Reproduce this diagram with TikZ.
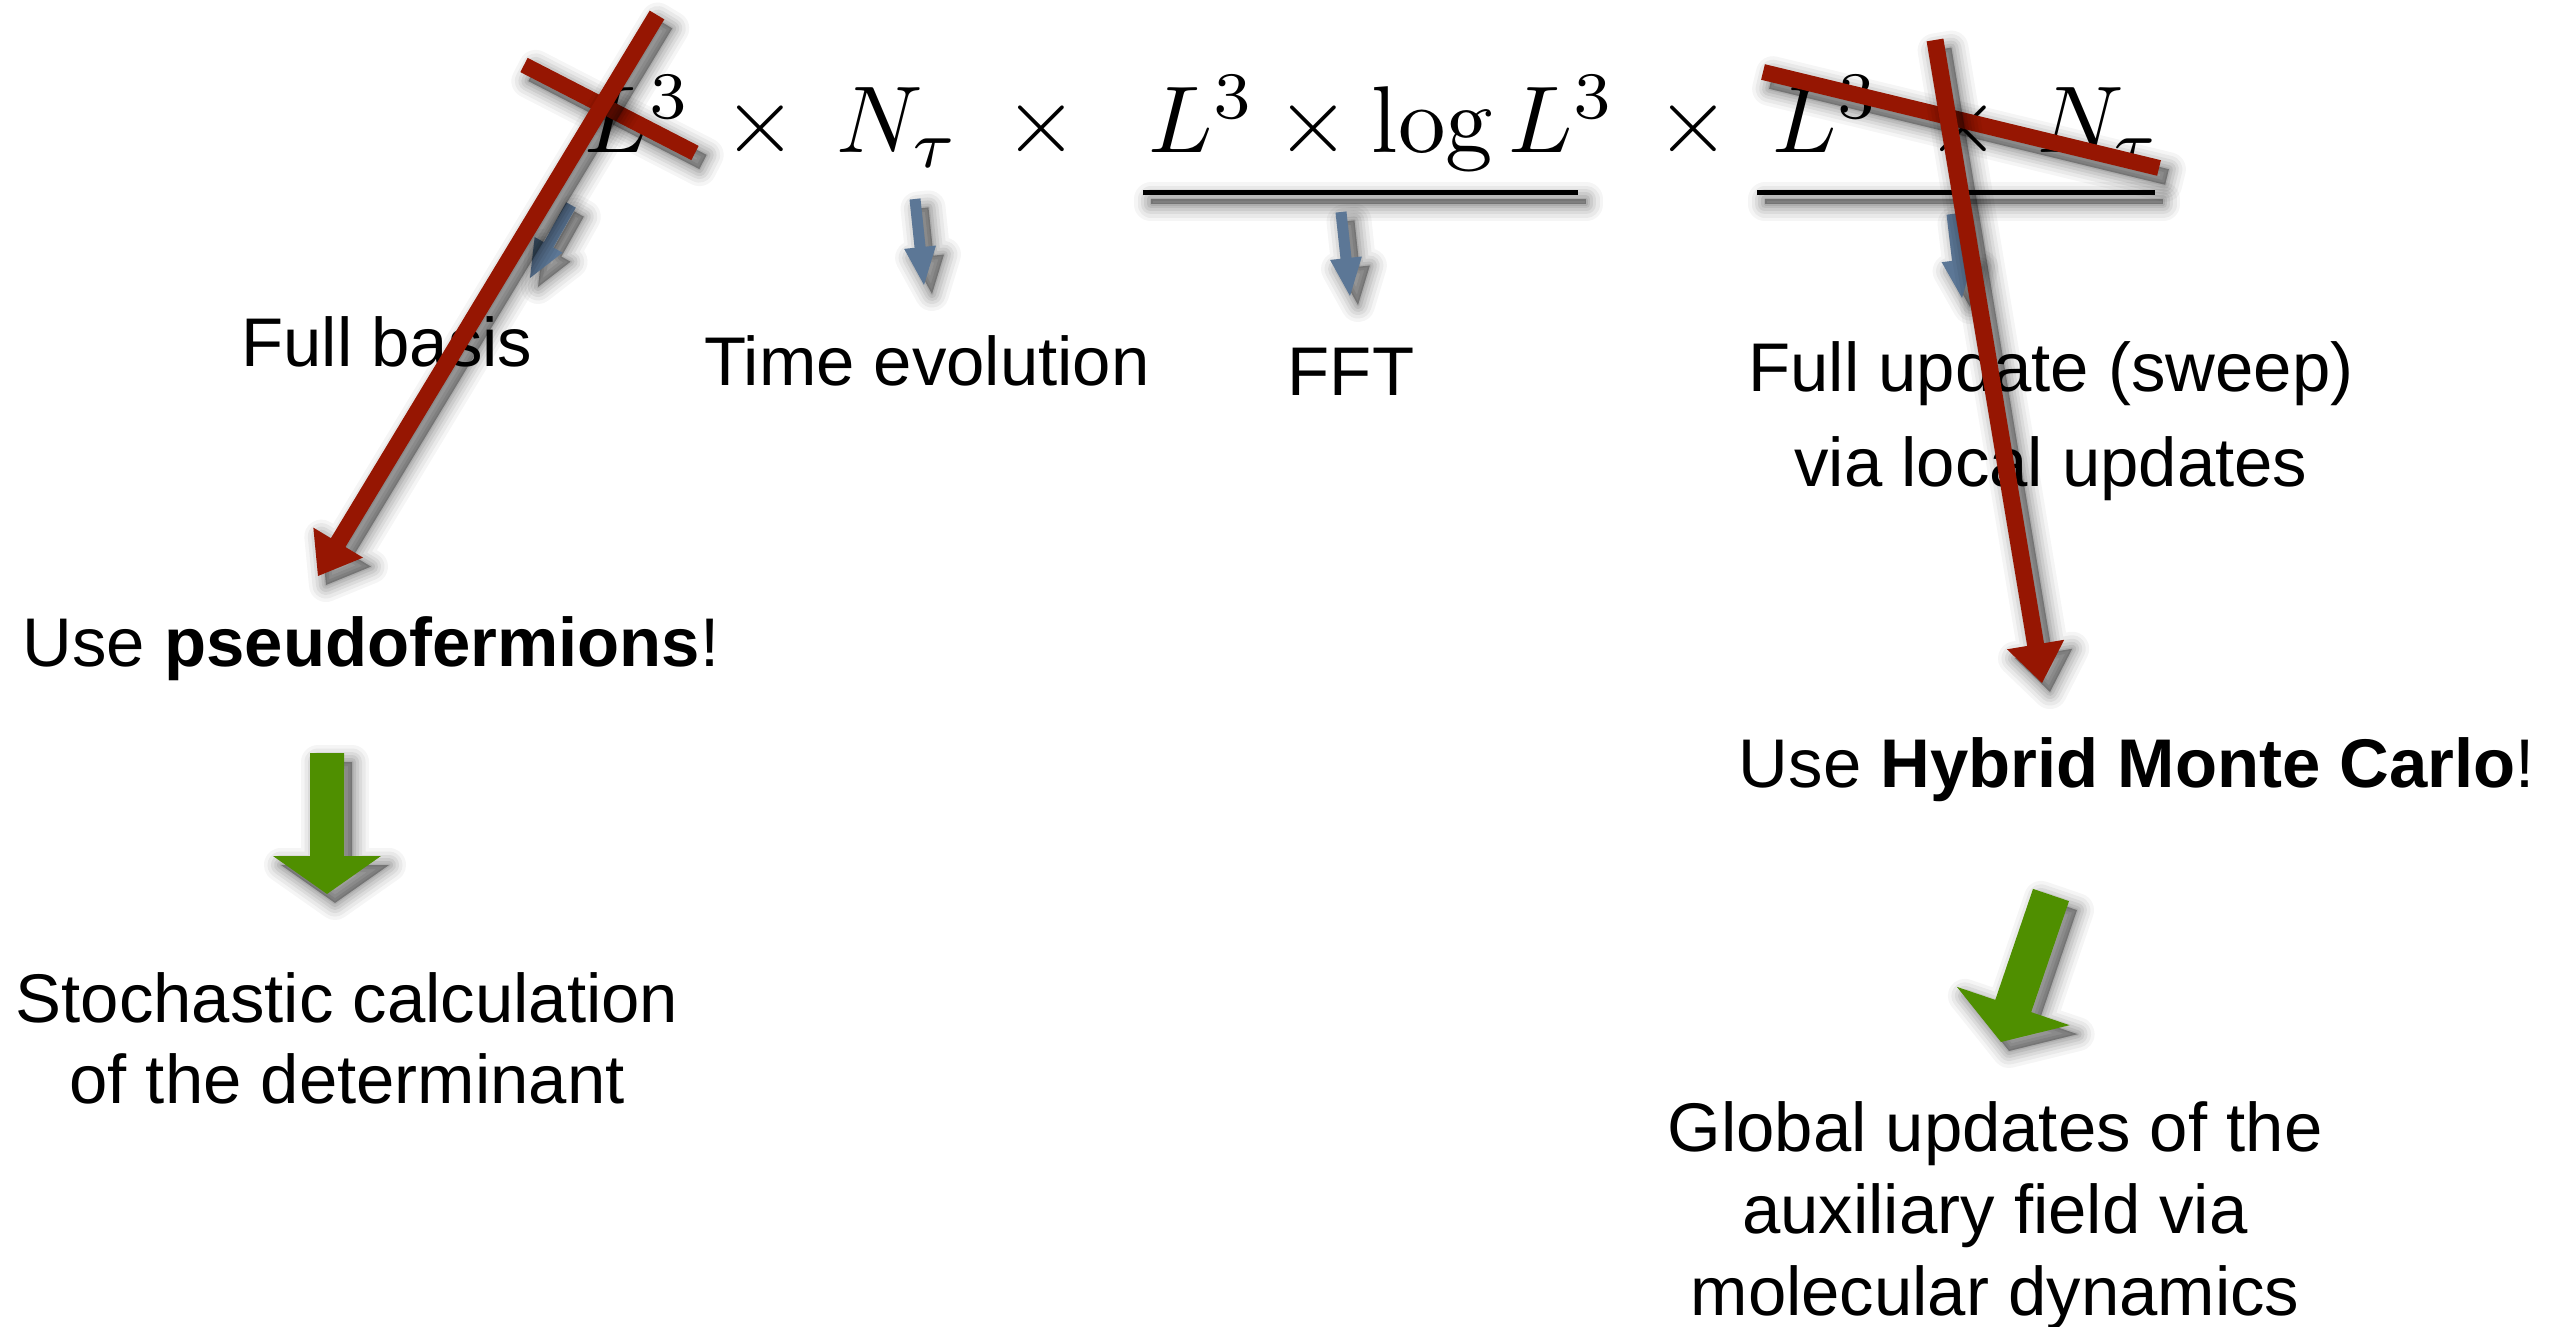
\documentclass[tikz,border=0pt]{standalone}
\usepackage{graphicx}
\usepackage{fontspec}
\newfontfamily\lsans{Liberation Sans}
\usetikzlibrary{calc}
\definecolor{redA}{RGB}{150,22,2}
\definecolor{greenA}{RGB}{79,143,0}
\definecolor{blueA}{RGB}{92,119,150}

\newcommand\shadowlayers[1]{%
  \begin{scope}[transform canvas={shift={(8,9)}}]
    \foreach \w/\o in {3.4mm/0.04,2.7mm/0.05,2.0mm/0.06,1.4mm/0.07,0.8mm/0.08,0.3mm/0.08}{
      \filldraw[black, line width=\w, opacity=\o, line join=round] #1;}
  \end{scope}}

% #1 tail, #2 tip, #3 shaft half width, #4 head half width, #5 head length, #6 colour
\newcommand\fatarrow[6]{%
  \coordinate (hb) at ($(#2)!#5!(#1)$);
  \coordinate (p1) at ($(#1)!#3!90:(#2)$);
  \coordinate (p2) at ($(hb)!#3!90:(#2)$);
  \coordinate (p3) at ($(hb)!#4!90:(#2)$);
  \coordinate (p4) at ($(hb)!#4!-90:(#2)$);
  \coordinate (p5) at ($(hb)!#3!-90:(#2)$);
  \coordinate (p6) at ($(#1)!#3!-90:(#2)$);
  \shadowlayers{(p1)--(p2)--(p3)--(#2)--(p4)--(p5)--(p6)--cycle}
  \fill[#6] (p1)--(p2)--(p3)--(#2)--(p4)--(p5)--(p6)--cycle;}

% #1 A, #2 B, #3 half width, #4 colour
\newcommand\fatbar[4]{%
  \coordinate (q1) at ($(#1)!#3!90:(#2)$);
  \coordinate (q2) at ($(#2)!#3!-90:(#1)$);
  \coordinate (q3) at ($(#2)!#3!90:(#1)$);
  \coordinate (q4) at ($(#1)!#3!-90:(#2)$);
  \shadowlayers{(q1)--(q2)--(q3)--(q4)--cycle}
  \fill[#4] (q1)--(q2)--(q3)--(q4)--cycle;}

\newcommand\mybigmath[1]{\scalebox{2.7}{$#1$}}

\begin{document}
\begin{tikzpicture}[x=0.1mm,y=-0.1mm,
  txt/.style={font=\lsans\fontsize{19.6pt}{27pt}\selectfont, inner sep=0pt, align=center, anchor=base},
  mth/.style={inner sep=0pt}]
\useasboundingbox (0,0) rectangle (2563,1327);

% formula
\node[mth, anchor=base west] (fA) at (584,153) {\mybigmath{L^3}};
\node[mth, anchor=base] (fB) at (760,153) {\mybigmath{\times}};
\node[mth, anchor=base west] (fC) at (836,153) {\mybigmath{N_\tau}};
\node[mth, anchor=base] (fD) at (1041,153) {\mybigmath{\times}};
\node[mth, anchor=base west] (fE) at (1148,153) {\mybigmath{L^3\times\log L^3}};
\node[mth, anchor=base] (fF) at (1693,153) {\mybigmath{\times}};
\node[mth, anchor=base west] (fG) at (1772,153) {\mybigmath{L^3}};
\node[mth, anchor=base] (fH) at (1963,153) {\mybigmath{\times}};
\node[mth, anchor=base west] (fI) at (2037,153) {\mybigmath{N_\tau}};

% labels (multi-line nodes: base = baseline of last line)
\node[txt] (fb) at (387,367) {Full basis};
\node[txt] (te) at (927,386) {Time evolution};
\node[txt] (fft) at (1351,396) {FFT};
\node[txt, font=\lsans\fontsize{19.6pt}{27.2pt}\selectfont] (fu) at (2051,487) {Full update (sweep)\\via local updates};
\node[txt] (upf) at (371,667) {Use \textbf{pseudofermions}!};
\node[txt, font=\lsans\fontsize{19.6pt}{22.8pt}\selectfont] (sto) at (347,1103) {Stochastic calculation\\of the determinant};
\node[txt] (hmc) at (2137,788) {Use \textbf{Hybrid Monte Carlo}!};
\node[txt, font=\lsans\fontsize{19.6pt}{23.3pt}\selectfont] (glob) at (1995,1315) {Global updates of the\\auxiliary field via\\molecular dynamics};

% underlines
\coordinate (u1a) at (1143,193); \coordinate (u1b) at (1578,193);
\coordinate (u2a) at (1757,193); \coordinate (u2b) at (2155,193);
\fatbar{u1a}{u1b}{0.25mm}{black}
\fatbar{u2a}{u2b}{0.25mm}{black}

% blue arrows
\coordinate (b1t) at (571,205); \coordinate (b1h) at (530,278);
\coordinate (b2t) at (915,199); \coordinate (b2h) at (924,285);
\coordinate (b3t) at (1341,212); \coordinate (b3h) at (1350,296);
\coordinate (b4t) at (1952,214); \coordinate (b4h) at (1962,298);
\fatarrow{b1t}{b1h}{0.55mm}{1.6mm}{3.8mm}{blueA}
\fatarrow{b2t}{b2h}{0.55mm}{1.6mm}{3.8mm}{blueA}
\fatarrow{b3t}{b3h}{0.55mm}{1.6mm}{3.8mm}{blueA}
\fatarrow{b4t}{b4h}{0.55mm}{1.6mm}{3.8mm}{blueA}

% green arrows
\coordinate (g1t) at (327,753); \coordinate (g1h) at (327,894);
\coordinate (g2t) at (2051,895); \coordinate (g2h) at (2001,1042);
\fatarrow{g1t}{g1h}{1.7mm}{5.4mm}{3.8mm}{greenA}
\fatarrow{g2t}{g2h}{1.9mm}{5.95mm}{3.8mm}{greenA}

% red crosses
\coordinate (c1a) at (524,65); \coordinate (c1b) at (695,153);
\coordinate (c2a) at (1763,72); \coordinate (c2b) at (2159,168);
\fatbar{c1a}{c1b}{0.8mm}{redA}
\fatbar{c2a}{c2b}{0.8mm}{redA}

% red arrows
\coordinate (r1t) at (657,15); \coordinate (r1h) at (318,576);
\coordinate (r2t) at (1935,40); \coordinate (r2h) at (2042,683);
\fatarrow{r1t}{r1h}{0.85mm}{2.9mm}{3.9mm}{redA}
\fatarrow{r2t}{r2h}{0.85mm}{2.9mm}{3.9mm}{redA}
\end{tikzpicture}
\end{document}
